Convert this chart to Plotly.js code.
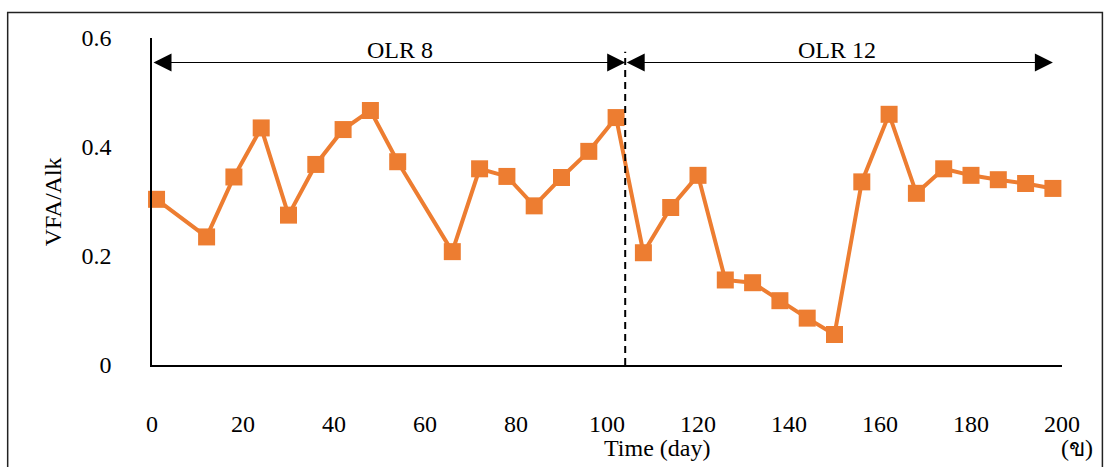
<!DOCTYPE html>
<html>
<head>
<meta charset="utf-8">
<script src="https://cdn.plot.ly/plotly-3.0.1.min.js"></script>
<style>
  html, body { margin: 0; padding: 0; background: #fff; }
  #chart { width: 1105px; height: 467px; }
</style>
</head>
<body>
<div id="chart"></div>
<script>
// Sampling days and measured VFA/alkalinity ratio
const days = [1, 12, 18, 24, 30, 36, 42, 48, 54, 66, 72, 78, 84, 90, 96, 102,
              108, 114, 120, 126, 132, 138, 144, 150, 156, 162, 168, 174, 180, 186, 192, 198];
const vfaAlk = [0.304, 0.235, 0.345, 0.435, 0.275, 0.368, 0.432, 0.467, 0.373, 0.208,
                0.360, 0.346, 0.292, 0.344, 0.392, 0.454, 0.206, 0.289, 0.348, 0.156,
                0.151, 0.118, 0.086, 0.056, 0.336, 0.460, 0.315, 0.360, 0.348, 0.340,
                0.333, 0.324];

// Organic loading rate phases
const phaseNames = ['OLR 8', 'OLR 12'];
const phaseStart = [0, 104];
const phaseEnd = [104, 198];
const phaseLabelX = [54.5, 150.5];
const switchDay = 104;

// Axis ticks
const xTickVals = [0, 20, 40, 60, 80, 100, 120, 140, 160, 180, 200];
const xTickText = ['0', '20', '40', '60', '80', '100', '120', '140', '160', '180', '200'];
const yTickVals = [0, 0.2, 0.4, 0.6];
const yTickText = ['0', '0.2', '0.4', '0.6'];

const FONT = 'Liberation Serif, Times New Roman, serif';
const ORANGE = '#ED7D31';
const arrowY = 0.555;

const trace = {
  x: days,
  y: vfaAlk,
  type: 'scatter',
  mode: 'lines+markers',
  line: { color: ORANGE, width: 4 },
  marker: { symbol: 'square', size: 17, color: ORANGE },
  cliponaxis: false,
  hoverinfo: 'x+y'
};

const annotations = [];
phaseNames.forEach((name, i) => {
  // double-headed span arrow
  annotations.push({
    xref: 'x', yref: 'y', axref: 'x', ayref: 'y',
    x: phaseEnd[i], y: arrowY, ax: phaseStart[i], ay: arrowY,
    text: '', showarrow: true,
    arrowhead: 2, startarrowhead: 2, arrowside: 'end+start',
    arrowsize: 3, startarrowsize: 3, arrowwidth: 1.2,
    arrowcolor: '#000', standoff: 0, startstandoff: 0
  });
  // phase label
  annotations.push({
    xref: 'x', yref: 'y', x: phaseLabelX[i], y: arrowY,
    yanchor: 'bottom', xanchor: 'center', yshift: -2,
    text: name, showarrow: false,
    font: { family: FONT, size: 24, color: '#000' }
  });
});

annotations.push({
  xref: 'paper', yref: 'paper', x: -0.109, y: 0.5,
  text: 'VFA/Alk', textangle: -90, showarrow: false,
  xanchor: 'center', yanchor: 'middle',
  font: { family: FONT, size: 24, color: '#000' }
});
annotations.push({
  xref: 'paper', yref: 'paper', x: 0.5546, y: -0.253,
  text: 'Time (day)', showarrow: false,
  xanchor: 'center', yanchor: 'middle',
  font: { family: FONT, size: 24, color: '#000' }
});
annotations.push({
  xref: 'paper', yref: 'paper', x: 1.0165, y: -0.253,
  text: '(ข)', showarrow: false,
  xanchor: 'center', yanchor: 'middle',
  font: { family: FONT, size: 24, color: '#000' }
});

const layout = {
  width: 1105,
  height: 467,
  margin: { l: 152, r: 43, t: 38, b: 102 },
  paper_bgcolor: '#fff',
  plot_bgcolor: '#fff',
  showlegend: false,
  font: { family: FONT, size: 24, color: '#000' },
  xaxis: {
    range: [0, 200],
    tickvals: xTickVals,
    ticktext: xTickText,
    showgrid: false,
    zeroline: false,
    showline: true,
    linecolor: '#000',
    linewidth: 1.8,
    ticks: '',
    ticklabelstandoff: 36,
    tickfont: { family: FONT, size: 24, color: '#000' },
    fixedrange: true
  },
  yaxis: {
    range: [0, 0.6],
    tickvals: yTickVals,
    ticktext: yTickText,
    showgrid: false,
    zeroline: false,
    showline: true,
    linecolor: '#000',
    linewidth: 1.8,
    ticks: '',
    ticklabelstandoff: 34,
    tickfont: { family: FONT, size: 24, color: '#000' },
    fixedrange: true
  },
  shapes: [
    // phase change marker
    {
      type: 'line', xref: 'x', yref: 'y',
      x0: switchDay, x1: switchDay, y0: 0, y1: 0.575,
      line: { color: '#000', width: 2, dash: '7px,5px' }
    },
    // outer frame
    {
      type: 'rect', xref: 'paper', yref: 'paper',
      x0: -0.1586, x1: 1.0444, y0: -0.4, y1: 1.078,
      line: { color: '#222', width: 1.5 }, fillcolor: 'rgba(0,0,0,0)'
    }
  ],
  annotations: annotations
};

Plotly.newPlot('chart', [trace], layout, { displayModeBar: false, staticPlot: true });
</script>
</body>
</html>
